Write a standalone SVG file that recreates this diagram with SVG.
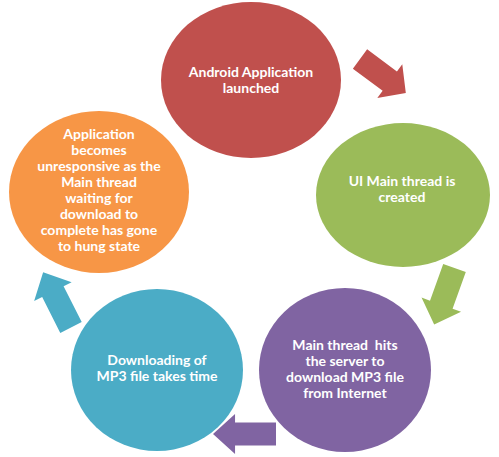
<svg xmlns="http://www.w3.org/2000/svg" width="499" height="457" viewBox="0 0 499 457">
  <defs>
    <style>
      .lbl { font-family: Lato, "Liberation Sans", Arial, sans-serif; font-weight: bold; font-size: 14px; fill: #ffffff; text-anchor: middle; white-space: pre; }
    </style>
    <path id="arw" d="M0,-12 H39 V-21 L60,0 L39,21 V12 H0 Z"/>
  </defs>
  <rect width="499" height="457" fill="#ffffff"/>
  <g id="node-launched">
    <ellipse cx="251" cy="80" rx="90" ry="78" fill="#C0504D"/>
    <text class="lbl" x="251" y="77">Android Application</text>
    <text class="lbl" x="251" y="93">launched</text>
  </g>
  <g id="node-ui-thread">
    <ellipse cx="403" cy="195" rx="87" ry="72" fill="#9BBB59"/>
    <text class="lbl" x="402" y="186">UI Main thread is</text>
    <text class="lbl" x="402" y="202">created</text>
  </g>
  <g id="node-hits-server">
    <ellipse cx="345" cy="370" rx="86" ry="82" fill="#8064A2"/>
    <text class="lbl" x="345" y="350">Main thread  hits</text>
    <text class="lbl" x="345" y="366">the server to</text>
    <text class="lbl" x="345" y="382">download MP3 file</text>
    <text class="lbl" x="345" y="398">from Internet</text>
  </g>
  <g id="node-downloading">
    <ellipse cx="157" cy="370" rx="86" ry="81" fill="#4BACC6"/>
    <text class="lbl" x="157" y="365">Downloading of</text>
    <text class="lbl" x="157" y="381">MP3 file takes time</text>
  </g>
  <g id="node-unresponsive">
    <ellipse cx="99" cy="192" rx="90" ry="81" fill="#F79646"/>
    <text class="lbl" x="99" y="139">Application</text>
    <text class="lbl" x="99" y="155">becomes</text>
    <text class="lbl" x="99" y="171">unresponsive as the</text>
    <text class="lbl" x="99" y="187">Main thread</text>
    <text class="lbl" x="99" y="203">waiting for</text>
    <text class="lbl" x="99" y="219">download to</text>
    <text class="lbl" x="99" y="235">complete has gone</text>
    <text class="lbl" x="99" y="251">to hung state</text>
  </g>
  <g id="connectors">
    <use href="#arw" fill="#C0504D" transform="translate(360,59) rotate(36.5) scale(0.95,1)"/>
    <use href="#arw" fill="#9BBB59" transform="translate(454.5,268) rotate(109.8)"/>
    <use href="#arw" fill="#8064A2" transform="translate(276,434) rotate(180) scale(1.05,0.95)"/>
    <use href="#arw" fill="#4BACC6" transform="translate(71,327.5) rotate(-116.8) scale(1.03,1)"/>
  </g>
</svg>
